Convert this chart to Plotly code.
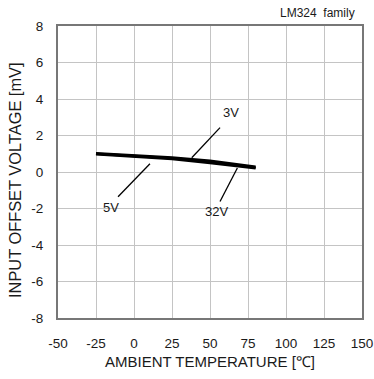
import plotly.graph_objects as go

temps = [-25, 0, 25, 50, 80]
v_3v = [1.02, 0.90, 0.79, 0.62, 0.28]
v_5v = [1.00, 0.88, 0.75, 0.56, 0.25]
v_32v = [0.98, 0.85, 0.71, 0.50, 0.21]

x_ticks = [-50, -25, 0, 25, 50, 75, 100, 125, 150]
y_ticks = [-8, -6, -4, -2, 0, 2, 4, 6, 8]

fig = go.Figure()
for name, vals in [("3V", v_3v), ("5V", v_5v), ("32V", v_32v)]:
    fig.add_trace(go.Scatter(x=temps, y=vals, mode="lines", name=name,
                             line=dict(color="black", width=2.6), showlegend=False))

fam = "Liberation Sans, Arial, sans-serif"
tick_font = dict(family=fam, size=13.5, color="#1a1a1a")
lab_font = dict(family=fam, size=13, color="#1a1a1a")
title_font = dict(family=fam, size=15, color="#1a1a1a")

# leader lines and labels
leaders = [
    ("3V", (56.6, 2.43), (38.0, 0.78), (63.8, 3.25)),
    ("5V", (-10.5, -1.36), (10.5, 0.45), (-15.1, -1.96)),
    ("32V", (56.6, -1.62), (68.0, 0.22), (54.4, -2.16)),
]
for label, p0, p1, t in leaders:
    fig.add_shape(type="line", x0=p0[0], y0=p0[1], x1=p1[0], y1=p1[1],
                  line=dict(color="black", width=1.3))
    fig.add_annotation(x=t[0], y=t[1], text=label, showarrow=False, font=lab_font)

fig.add_annotation(xref="paper", yref="paper", x=0.985, y=1.015, yanchor="bottom",
                   xanchor="right", text="LM324  family", showarrow=False,
                   font=dict(family=fam, size=12, color="#1a1a1a"))

# y axis title as annotation for exact placement
fig.add_annotation(xref="paper", yref="paper", x=-0.1414, y=0.4726, xanchor="center",
                   yanchor="middle", textangle=-90, text="INPUT OFFSET VOLTAGE [mV]",
                   showarrow=False, font=dict(family=fam, size=16.4, color="#1a1a1a"))

axis_common = dict(showgrid=True, gridcolor="#c4c4c4", gridwidth=1,
                   showline=True, linecolor="#777", linewidth=2, mirror=True,
                   zeroline=False, ticks="", tickfont=tick_font, automargin=False)

fig.update_xaxes(range=[-50, 150], tickvals=x_ticks, ticktext=[str(v) for v in x_ticks],
                 ticklabelstandoff=12,
                 title=dict(text="AMBIENT TEMPERATURE [℃]", font=title_font, standoff=6),
                 **axis_common)
fig.update_yaxes(range=[-8, 8], tickvals=y_ticks, ticktext=[str(v) for v in y_ticks],
                 ticklabelstandoff=10, **axis_common)

fig.update_layout(width=374, height=379, margin=dict(l=58, r=12, t=26, b=61),
                  plot_bgcolor="white", paper_bgcolor="white")

fig.write_html("out.html", config={"displayModeBar": False},
               post_script="document.body.style.margin='0';document.body.style.overflow='hidden';")
